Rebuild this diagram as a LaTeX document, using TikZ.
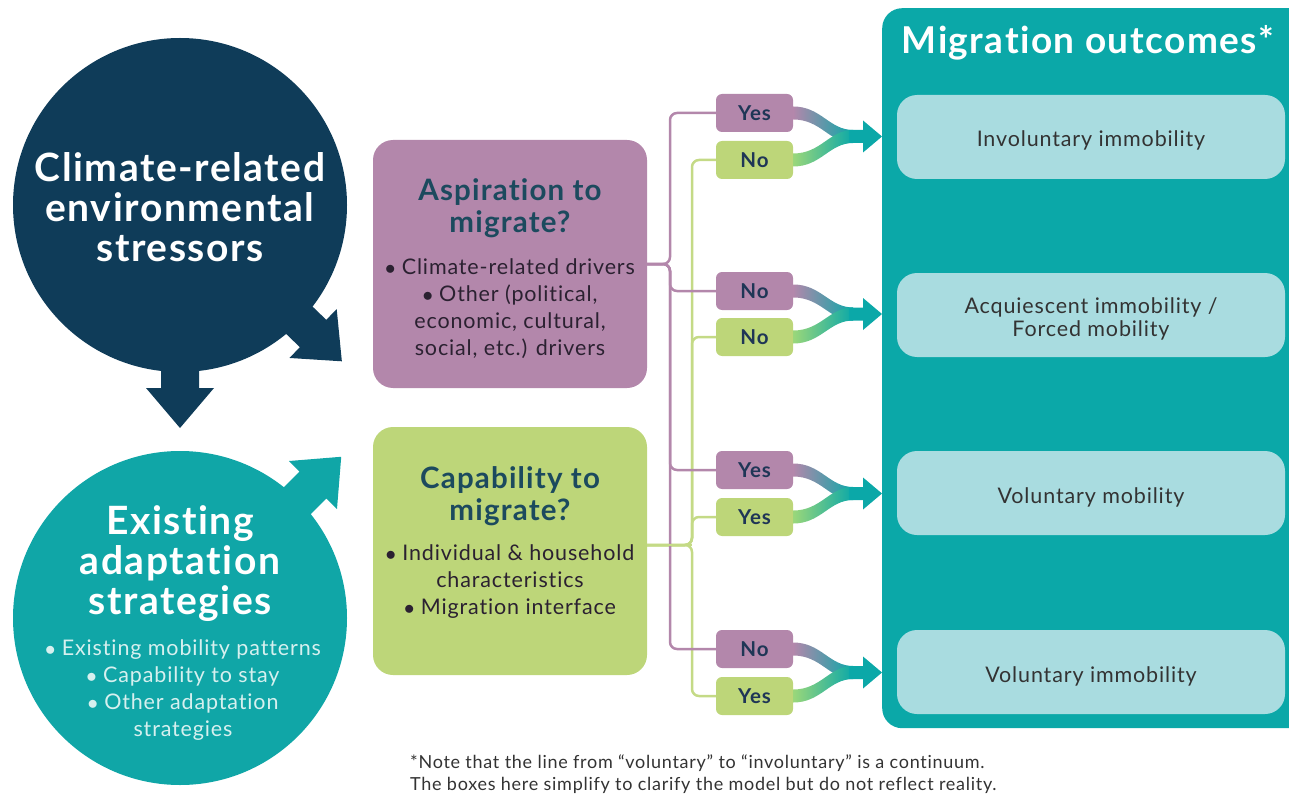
\documentclass[tikz,border=0pt]{standalone}
\usepackage{fontspec}
\setmainfont{Lato}[LetterSpace=4, Ligatures={NoCommon,NoContextual}]
\usetikzlibrary{calc}
\definecolor{navy}{HTML}{0F3C59}
\definecolor{tealc}{HTML}{10A6A7}
\definecolor{panelc}{HTML}{0BA8A8}
\definecolor{purp}{HTML}{B387AB}
\definecolor{grn}{HTML}{BDD679}
\definecolor{outc}{HTML}{A9DCE0}
\definecolor{titlec}{HTML}{1C4A5E}
\definecolor{ync}{HTML}{1F3656}
\definecolor{bodyc}{HTML}{2B2131}
\definecolor{bulletc}{HTML}{D6F0EF}
\definecolor{flowgrn}{HTML}{9AD77A}
\definecolor{notec}{HTML}{333333}
\newcommand{\fs}[2]{\fontsize{#1}{#2}\selectfont}
\newcommand{\flowpair}[3]{%
  \shade[left color=purp, right color=panelc]
    let \p1=(#1.east), \p4=($(#1.east)!0.5!(#2.east)$) in
    (\x1,\y1+6.5pt) .. controls (\x1+28pt,\y1+6.5pt) and (\x1+36pt,\y4+6.5pt) .. (\x1+60pt,\y4+6.5pt)
    -- (\x1+60pt,\y4-6.5pt) .. controls (\x1+36pt,\y4-6.5pt) and (\x1+28pt,\y1-6.5pt) .. (\x1,\y1-6.5pt) -- cycle;
  \shade[left color=flowgrn, right color=panelc]
    let \p2=(#2.east), \p4=($(#1.east)!0.5!(#2.east)$) in
    (\x2,\y2+6.5pt) .. controls (\x2+28pt,\y2+6.5pt) and (\x2+36pt,\y4+6.5pt) .. (\x2+60pt,\y4+6.5pt)
    -- (\x2+60pt,\y4-6.5pt) .. controls (\x2+36pt,\y4-6.5pt) and (\x2+28pt,\y2-6.5pt) .. (\x2,\y2-6.5pt) -- cycle;
  \fill[panelc]
    let \p1=(#1.east), \p4=($(#1.east)!0.5!(#2.east)$), \p3=(#3.west) in
    (\x1+56pt,\y4+6.5pt) -- (\x3-19pt,\y4+6.5pt) -- (\x3-19pt,\y4+16pt) -- (\x3,\y4)
    -- (\x3-19pt,\y4-16pt) -- (\x3-19pt,\y4-6.5pt) -- (\x1+56pt,\y4-6.5pt) -- cycle;
}
\tikzset{
  bigbox/.style={rectangle, rounded corners=20pt, minimum width=274pt, minimum height=248pt, inner sep=0pt},
  yn/.style={rectangle, rounded corners=6pt, minimum width=77pt, minimum height=38pt, inner sep=0pt,
             text=ync, font=\bfseries\fs{20.5}{24}},
  outbox/.style={rectangle, rounded corners=20pt, fill=outc, minimum width=388pt, minimum height=84pt,
             inner sep=0pt},
  outtext/.style={text=black!80, align=center, font=\fs{21.5}{23}},
  pline/.style={draw=purp, line width=2.5pt, rounded corners=7pt},
  gline/.style={draw=grn!90!white, line width=2.5pt, rounded corners=7pt},
  boxtitle/.style={text=titlec, font=\bfseries\fs{29.5}{32}, align=center},
  boxbody/.style={text=bodyc, font=\fs{21.5}{27}, align=center},
  circtitle/.style={text=white, font=\bfseries\fs{39}{40}, align=center},
}
\begin{document}
\begin{tikzpicture}[x=1pt,y=-1pt]
\useasboundingbox (0,0) rectangle (1289,794);
\clip (0,0) rectangle (1289,794);

% ---- left circles with arrows
\node[circle, fill=navy, minimum size=334pt, inner sep=0pt] (cs) at (180,205) {};
\begin{scope}[shift={(180,205)}, rotate=-90]
  \fill[navy] (100,-19) -- (183,-19) -- (183,-34) -- (223,0) -- (183,34) -- (183,19) -- (100,19) -- cycle;
\end{scope}
\begin{scope}[shift={(180,205)}, rotate=-44]
  \fill[navy] (100,-19) -- (185,-19) -- (185,-34) -- (225,0) -- (185,34) -- (185,19) -- (100,19) -- cycle;
\end{scope}
\node[circle, fill=tealc, minimum size=334pt, inner sep=0pt] (ea) at (180,618) {};
\begin{scope}[shift={(180,618)}, rotate=45]
  \fill[tealc] (100,-19) -- (188,-19) -- (188,-34) -- (228,0) -- (188,34) -- (188,19) -- (100,19) -- cycle;
\end{scope}
\node[circtitle] (cst) at (180,207) {Climate-related\\environmental\\stressors};
\node[circtitle] (eat) at (180,564) {Existing\\adaptation\\strategies};
\node[text=bulletc, font=\fs{21.5}{27.3}, align=center] (eab) at (183,690)
  {$\bullet$ Existing mobility patterns\\$\bullet$ Capability to stay\\$\bullet$ Other adaptation\\strategies};

% ---- middle boxes
\node[bigbox, fill=purp] (asp) at (510,264) {};
\node[boxtitle] (aspt) at (510,208) {Aspiration to\\migrate?};
\node[boxbody] (aspb) at (510,308.5) {$\bullet$ Climate-related drivers\\$\bullet$ Other (political,\\economic, cultural,\\social, etc.) drivers};
\node[bigbox, fill=grn] (cap) at (510,551) {};
\node[boxtitle] (capt) at (510,496) {Capability to\\migrate?};
\node[boxbody] (capb) at (510,581.5) {$\bullet$ Individual \& household\\characteristics\\$\bullet$ Migration interface};

% ---- right panel
\node[rectangle, rounded corners=20pt, fill=panelc, minimum width=428pt, minimum height=720pt,
      anchor=north west, inner sep=0pt] (panel) at (882,8) {};
\node[text=white, font=\bfseries\fs{37}{40}] (ptitle) at (1088,43) {Migration outcomes*};
\node[outbox] (out1) at (1091,137) {};
\node[outbox] (out2) at (1091,315) {};
\node[outbox] (out3) at (1091,493) {};
\node[outbox] (out4) at (1091,672) {};
\node[outtext] (out1t) at (1091,140) {Involuntary immobility};
\node[outtext] (out2t) at (1091,319) {Acquiescent immobility /\\Forced mobility};
\node[outtext] (out3t) at (1091,497) {Voluntary mobility};
\node[outtext] (out4t) at (1091,676) {Voluntary immobility};

% ---- yes / no boxes
\node[yn, fill=purp] (p1) at (754.5,113) {Yes};
\node[yn, fill=grn]  (g1) at (754.5,160) {No};
\node[yn, fill=purp] (p2) at (754.5,291) {No};
\node[yn, fill=grn]  (g2) at (754.5,337) {No};
\node[yn, fill=purp] (p3) at (754.5,470) {Yes};
\node[yn, fill=grn]  (g3) at (754.5,517) {Yes};
\node[yn, fill=purp] (p4) at (754.5,649) {No};
\node[yn, fill=grn]  (g4) at (754.5,696) {Yes};

% ---- trees
\coordinate (gj) at ($(cap.east)+(0,-6)$);
\foreach \b in {g1,g2,g3,g4} \draw[gline] (gj) -- (692,545) |- (\b.west);
\foreach \b in {p1,p2,p3,p4} \draw[pline] (asp.east) -- (670,264) |- (\b.west);
\draw[gline] (gj) -- (692,545);

% ---- flows
\flowpair{p1}{g1}{panel}
\flowpair{p2}{g2}{panel}
\flowpair{p3}{g3}{panel}
\flowpair{p4}{g4}{panel}

% ---- note
\node[anchor=west, align=left, text=notec, font=\fs{18}{22}, inner sep=0pt] (note) at (410,774)
  {*Note that the line from “voluntary” to “involuntary” is a continuum.\\The boxes here simplify to clarify the model but do not reflect reality.};
\end{tikzpicture}
\end{document}
